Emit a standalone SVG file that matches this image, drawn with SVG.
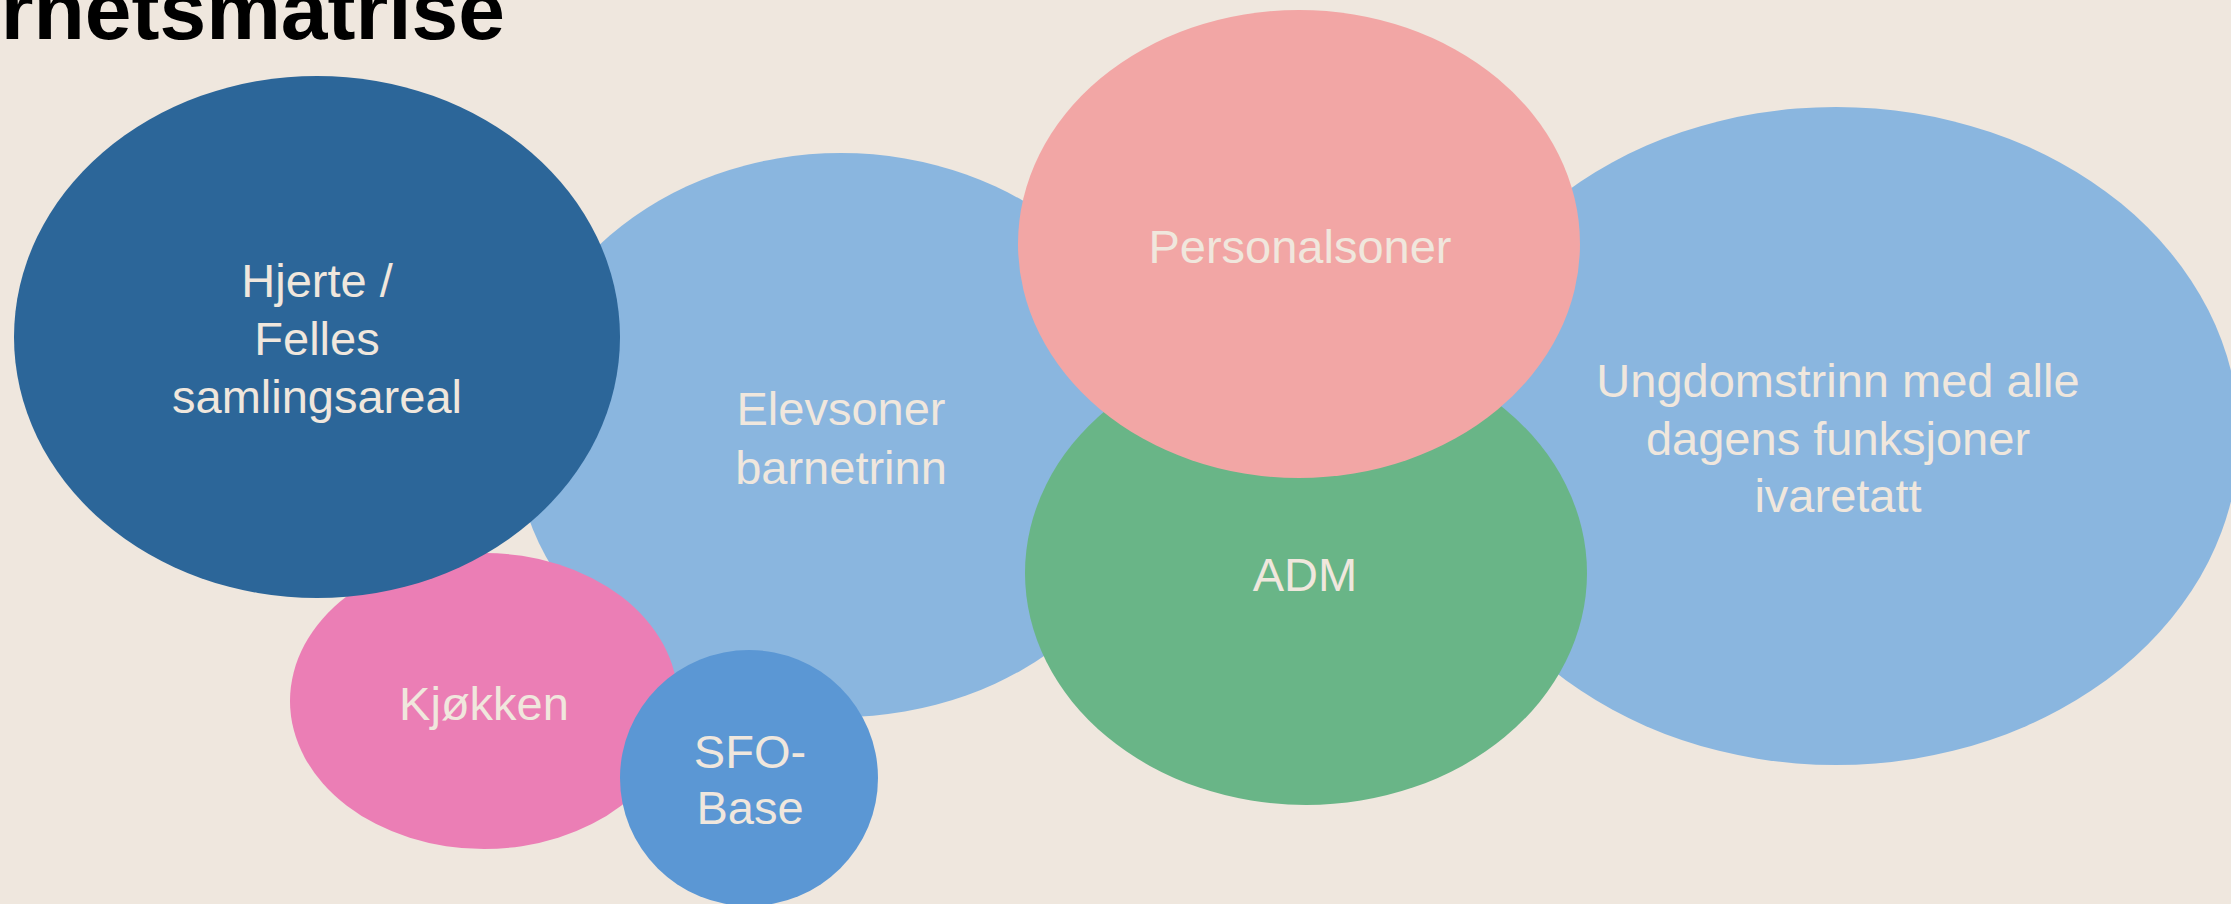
<svg xmlns="http://www.w3.org/2000/svg" width="2231" height="904" viewBox="0 0 2231 904">
<style>
.lbl{font-family:"Liberation Sans",Arial,sans-serif;font-size:47px;fill:#F0E7DD;text-anchor:middle}
.title{font-family:"Liberation Sans",Arial,sans-serif;font-size:84px;font-weight:bold;fill:#000}
</style>
<rect width="2231" height="904" fill="#EFE7DE"/>
<text class="title" x="505" y="39" text-anchor="end">rnetsmatrise</text>
<g id="elevsoner">
<ellipse cx="841" cy="435" rx="327" ry="282" fill="#8AB6DF"/>
<text class="lbl" x="841" y="425">Elevsoner</text>
<text class="lbl" x="841" y="484">barnetrinn</text>
</g>
<g id="ungdomstrinn">
<ellipse cx="1836" cy="436" rx="403" ry="329" fill="#8AB6DF"/>
<text class="lbl" x="1838" y="397">Ungdomstrinn med alle</text>
<text class="lbl" x="1838" y="455">dagens funksjoner</text>
<text class="lbl" x="1838" y="512">ivaretatt</text>
</g>
<g id="adm">
<ellipse cx="1306" cy="573" rx="281" ry="232" fill="#69B587"/>
<text class="lbl" x="1305" y="591">ADM</text>
</g>
<g id="personalsoner">
<ellipse cx="1299" cy="244" rx="281" ry="234" fill="#F2A6A5"/>
<text class="lbl" x="1300" y="263">Personalsoner</text>
</g>
<g id="kjokken">
<ellipse cx="484" cy="701" rx="194" ry="148" fill="#EB7EB5"/>
<text class="lbl" x="484" y="720">Kjøkken</text>
</g>
<g id="hjerte">
<ellipse cx="317" cy="337" rx="303" ry="261" fill="#2C6699"/>
<text class="lbl" x="317" y="297">Hjerte /</text>
<text class="lbl" x="317" y="355">Felles</text>
<text class="lbl" x="317" y="413">samlingsareal</text>
</g>
<g id="sfo">
<ellipse cx="749" cy="778" rx="129" ry="128" fill="#5B97D4"/>
<text class="lbl" x="750" y="768">SFO-</text>
<text class="lbl" x="750" y="824">Base</text>
</g>
<g id="connectors"/>
</svg>
